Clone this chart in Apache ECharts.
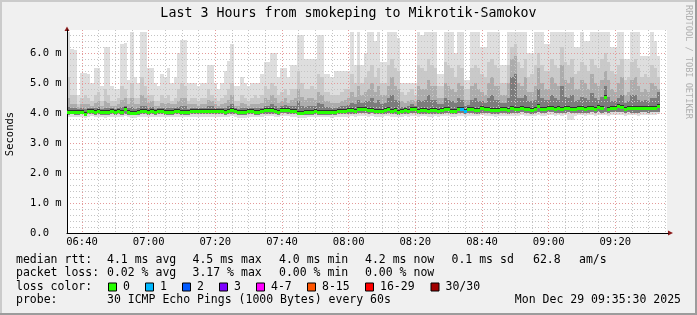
<!DOCTYPE html>
<html><head><meta charset="utf-8">
<script src="https://cdn.jsdelivr.net/npm/echarts@6/dist/echarts.min.js"></script>
<style>html,body{margin:0;padding:0;background:#f0f0f0}#c{width:697px;height:315px}</style>
</head><body><div id="c"></div>
<script>
// ---------------- data ----------------
const chartTitle = 'Last 3 Hours from smokeping to Mikrotik-Samokov';
const yAxisName = 'Seconds';
const startMinute = 395.5;          // 06:35:30, first column start (minutes of day)
const xTickLabels = ['06:40','07:00','07:20','07:40','08:00','08:20','08:40','09:00','09:20'];
const yTickLabels = ['0.0','1.0 m','2.0 m','3.0 m','4.0 m','5.0 m','6.0 m'];

// median rtt per 1-minute step (ms)
const median = [
4.05,4.05,4.04,4.05,4.05,3.98,4.06,4.07,4.05,4.07,
4.04,4.03,4.04,4.06,4.05,4.06,4.05,4.12,4.05,4.00,
4.00,4.04,4.07,4.07,4.05,4.06,4.03,4.06,4.06,4.05,
4.04,4.05,4.06,4.06,4.05,4.05,4.04,4.06,4.07,4.07,
4.07,4.07,4.07,4.08,4.08,4.07,4.06,4.05,4.07,4.10,
4.06,4.03,4.03,4.03,4.06,4.07,4.05,4.04,4.06,4.10,
4.10,4.10,4.06,4.05,4.11,4.11,4.10,4.06,4.06,4.00,
3.99,4.02,4.04,4.05,4.06,4.05,4.04,4.05,4.04,4.03,
4.05,4.06,4.08,4.06,4.09,4.10,4.08,4.12,4.13,4.12,
4.10,4.11,4.07,4.06,4.08,4.10,4.12,4.08,4.09,4.05,
4.06,4.10,4.08,4.12,4.12,4.08,4.10,4.10,4.06,4.09,
4.10,4.08,4.11,4.13,4.12,4.08,4.06,4.12,4.13,4.08,
4.12,4.14,4.10,4.10,4.16,4.12,4.14,4.11,4.09,4.11,
4.13,4.12,4.10,4.15,4.13,4.14,4.17,4.12,4.14,4.10,
4.12,4.22,4.14,4.13,4.17,4.18,4.13,4.16,4.12,4.16,
4.17,4.14,4.12,4.16,4.16,4.13,4.16,4.18,4.13,4.19,
4.16,4.55,4.12,4.17,4.18,4.22,4.19,4.14,4.17,4.15,
4.16,4.15,4.17,4.18,4.16,4.18,4.17,4.22];

// lost pings per step (of 30)
const lossCount = [
0,0,0,0,0,0,0,0,0,0, 0,0,0,0,0,0,0,0,0,0, 0,0,0,0,0,0,0,0,0,0,
0,0,0,0,0,0,0,0,0,0, 0,0,0,0,0,0,0,0,0,0, 0,0,0,0,0,0,0,0,0,0,
0,0,0,0,0,0,0,0,0,0, 0,0,0,0,0,0,0,0,0,0, 0,0,0,0,0,0,0,0,0,0,
0,0,0,0,0,0,0,0,0,0, 0,0,0,0,0,0,0,0,0,0, 0,0,0,0,0,0,0,0,1,1,
0,0,0,0,0,0,0,0,0,0, 0,0,0,0,0,0,0,0,0,0, 0,0,0,0,0,0,0,0,0,0,
0,0,0,0,0,0,0,0,0,0, 0,0,0,0,0,0,0,0,0,0, 0,0,0,0,0,0,0,0];

// smoke: slowest ping per step
const pingMax = [
6.7,6.15,6.1,4.6,5.35,5.35,5.3,5.0,5.5,5.5,
4.9,6.2,6.2,4.9,4.8,4.8,6.3,6.35,5.1,6.7,
5.2,5.0,6.7,6.7,5.5,5.5,5.0,4.9,5.3,5.2,
5.5,5.0,5.2,6.0,6.45,6.45,5.0,5.0,5.0,4.9,
5.0,5.0,5.6,5.6,5.0,4.8,5.0,5.4,5.75,6.3,
4.9,4.9,5.2,5.0,4.9,5.0,5.0,5.0,5.3,5.7,
5.7,6.0,6.0,5.2,5.5,5.5,5.2,5.6,5.6,6.6,
6.6,5.8,5.8,5.8,5.8,6.6,6.6,5.3,5.3,5.2,
5.4,5.4,5.4,5.4,5.4,6.7,5.6,6.7,5.6,6.0,
6.7,6.7,6.4,6.7,5.7,5.7,6.7,6.7,6.7,6.5,
5.0,5.0,5.0,5.0,5.0,6.7,6.6,6.7,6.7,6.7,
6.7,5.3,5.3,6.7,6.7,6.7,6.0,6.7,6.7,5.1,
5.1,6.7,6.7,6.7,6.2,6.2,6.7,6.7,6.7,6.7,
5.6,5.6,6.7,6.7,6.7,6.7,6.7,6.7,6.0,6.0,
6.7,6.7,6.7,6.3,6.3,6.7,6.7,6.7,6.7,6.7,
6.7,6.7,6.2,6.2,6.7,6.4,6.4,6.7,6.7,6.7,
6.7,6.7,6.7,6.2,6.2,6.7,6.7,5.8,5.8,6.7,
6.7,6.7,5.9,5.9,5.9,6.7,6.4,5.9];

// smoke: upper outer band
const pingHi2 = [
5.2,4.6,4.6,4.3,4.5,4.6,4.5,4.4,4.6,4.7,
4.4,4.8,4.6,4.4,4.4,4.5,4.9,4.8,4.5,5.0,
4.5,4.5,5.2,4.9,4.6,4.6,4.4,4.4,4.6,4.5,
4.6,4.4,4.5,4.8,5.0,4.9,4.4,4.5,4.5,4.4,
4.5,4.5,4.8,4.6,4.5,4.4,4.5,4.6,4.8,5.0,
4.4,4.4,4.6,4.5,4.4,4.5,4.6,4.5,4.6,4.9,
4.8,5.0,4.9,4.6,4.7,4.8,4.6,4.8,4.8,5.4,
5.0,4.8,4.8,4.9,4.8,5.3,5.2,4.7,4.7,4.6,
4.6,4.6,4.7,4.8,4.8,5.3,5.0,5.6,5.0,5.2,
5.4,5.6,5.2,5.5,5.0,5.0,5.6,5.8,5.5,5.4,
4.7,4.6,4.7,4.8,4.6,5.6,5.5,5.4,5.8,5.6,
5.5,4.9,4.9,5.7,5.6,5.5,5.2,5.6,5.5,4.8,
4.8,5.5,5.6,5.5,5.3,5.2,5.7,5.8,5.6,5.5,
5.0,5.0,5.6,6.2,6.3,5.7,5.5,5.8,5.2,5.3,
5.6,6.0,5.6,5.4,5.4,5.8,5.6,5.5,6.2,5.7,
5.6,5.8,5.3,5.4,5.7,5.6,5.4,5.8,5.6,5.5,
5.8,6.0,5.7,5.4,5.3,5.6,5.8,5.1,5.2,5.7,
5.8,5.5,5.2,5.3,5.2,5.6,5.5,5.2];

// smoke: upper middle band
const pingHi3 = [
4.5,4.3,4.3,4.2,4.3,4.3,4.3,4.25,4.35,4.4,
4.25,4.4,4.35,4.25,4.25,4.3,4.45,4.5,4.3,4.5,
4.3,4.3,4.6,4.5,4.35,4.4,4.25,4.25,4.35,4.3,
4.35,4.3,4.3,4.4,4.5,4.5,4.3,4.3,4.3,4.25,
4.3,4.3,4.45,4.4,4.3,4.25,4.3,4.35,4.45,4.6,
4.25,4.25,4.35,4.3,4.25,4.3,4.3,4.3,4.35,4.5,
4.45,4.6,4.5,4.35,4.4,4.5,4.35,4.45,4.5,4.8,
4.55,4.45,4.5,4.5,4.45,4.7,4.6,4.4,4.4,4.35,
4.35,4.35,4.4,4.45,4.5,4.7,4.55,4.9,4.6,4.7,
4.8,5.0,4.7,4.9,4.6,4.6,4.9,5.2,4.9,4.8,
4.4,4.35,4.4,4.45,4.4,4.9,4.8,4.8,5.1,4.9,
4.9,4.5,4.5,5.0,4.9,4.8,4.7,5.0,4.9,4.45,
4.45,4.9,5.0,4.8,4.7,4.6,5.0,5.2,4.9,4.9,
4.6,4.6,5.0,5.8,5.9,5.0,4.9,5.2,4.7,4.7,
4.9,5.5,5.0,4.8,4.8,5.2,5.0,4.9,5.6,5.1,
5.0,5.2,4.8,4.8,5.1,5.0,4.8,5.3,5.0,4.9,
5.1,5.4,5.1,4.8,4.7,5.0,5.2,4.6,4.7,5.1,
5.2,4.9,4.7,4.8,4.7,5.0,4.9,4.8];

// smoke: inner band above median
const pingHi4 = [
4.2,4.15,4.15,4.12,4.15,4.12,4.18,4.15,4.18,4.2,
4.14,4.18,4.15,4.15,4.14,4.16,4.2,4.25,4.16,4.2,
4.14,4.15,4.25,4.22,4.16,4.2,4.12,4.15,4.18,4.15,
4.16,4.15,4.16,4.2,4.25,4.22,4.14,4.16,4.18,4.16,
4.18,4.18,4.22,4.22,4.18,4.16,4.16,4.18,4.22,4.3,
4.15,4.14,4.18,4.15,4.16,4.16,4.16,4.15,4.18,4.25,
4.22,4.3,4.25,4.18,4.25,4.28,4.22,4.22,4.25,4.4,
4.25,4.2,4.25,4.25,4.22,4.35,4.3,4.2,4.2,4.18,
4.18,4.2,4.22,4.25,4.28,4.35,4.3,4.45,4.35,4.4,
4.4,4.5,4.35,4.45,4.3,4.35,4.5,4.6,4.45,4.4,
4.2,4.2,4.25,4.3,4.25,4.45,4.4,4.45,4.6,4.45,
4.45,4.3,4.3,4.5,4.45,4.4,4.35,4.5,4.45,4.25,
4.28,4.45,4.5,4.4,4.4,4.35,4.5,4.6,4.45,4.45,
4.35,4.35,4.5,5.2,5.3,4.5,4.5,4.6,4.4,4.4,
4.45,4.8,4.5,4.45,4.45,4.6,4.5,4.45,4.9,4.55,
4.5,4.6,4.4,4.45,4.55,4.5,4.45,4.65,4.5,4.45,
4.55,4.9,4.55,4.4,4.4,4.5,4.6,4.35,4.4,4.6,
4.6,4.45,4.4,4.45,4.4,4.5,4.5,4.7];

// smoke: lower inner bound
const pingLo = [
3.95,3.96,3.95,3.95,3.96,3.92,3.96,3.97,3.95,3.96,
3.95,3.94,3.95,3.96,3.95,3.96,3.95,3.98,3.95,3.93,
3.93,3.95,3.96,3.96,3.95,3.96,3.94,3.96,3.96,3.95,
3.95,3.95,3.96,3.96,3.95,3.95,3.95,3.96,3.97,3.96,
3.96,3.97,3.96,3.97,3.97,3.96,3.96,3.95,3.97,3.98,
3.96,3.94,3.94,3.94,3.96,3.97,3.95,3.95,3.96,3.98,
3.98,3.98,3.96,3.95,3.99,3.99,3.98,3.96,3.96,3.93,
3.92,3.94,3.95,3.95,3.96,3.95,3.95,3.95,3.95,3.94,
3.95,3.96,3.97,3.96,3.98,3.98,3.97,3.99,4.00,3.99,
3.98,3.99,3.96,3.96,3.97,3.98,3.99,3.97,3.97,3.95,
3.96,3.98,3.97,3.99,3.99,3.97,3.98,3.98,3.96,3.97,
3.98,3.97,3.98,4.00,3.99,3.97,3.96,3.99,4.00,3.97,
3.99,4.00,3.98,3.98,4.01,3.99,4.00,3.98,3.97,3.98,
3.99,3.99,3.98,4.00,3.99,4.00,4.02,3.99,4.00,3.98,
3.99,4.04,4.00,3.99,4.02,4.02,3.99,4.01,3.99,4.01,
4.02,4.00,3.99,4.01,4.01,3.99,4.01,4.02,3.99,4.03,
4.01,4.02,3.99,4.02,4.02,4.04,4.03,4.00,4.02,4.01,
4.01,4.00,4.02,4.02,4.01,4.02,4.02,4.05];

// smoke: fastest ping per step
const pingMin = [
3.86,3.88,3.87,3.87,3.88,3.82,3.88,3.89,3.87,3.88,
3.86,3.85,3.87,3.88,3.87,3.88,3.87,3.90,3.86,3.84,
3.84,3.87,3.88,3.88,3.87,3.88,3.86,3.87,3.88,3.87,
3.86,3.87,3.88,3.88,3.86,3.87,3.86,3.88,3.88,3.87,
3.87,3.88,3.87,3.88,3.88,3.87,3.87,3.86,3.88,3.89,
3.87,3.85,3.85,3.85,3.87,3.88,3.86,3.86,3.87,3.89,
3.89,3.89,3.87,3.86,3.90,3.90,3.89,3.87,3.87,3.83,
3.82,3.85,3.86,3.86,3.87,3.86,3.86,3.86,3.86,3.85,
3.86,3.87,3.88,3.87,3.88,3.89,3.88,3.90,3.90,3.90,
3.88,3.89,3.87,3.87,3.88,3.89,3.90,3.88,3.88,3.86,
3.87,3.89,3.88,3.90,3.90,3.88,3.89,3.89,3.86,3.88,
3.89,3.88,3.89,3.91,3.90,3.88,3.87,3.90,3.91,3.88,
3.90,3.91,3.89,3.89,3.92,3.90,3.91,3.89,3.88,3.89,
3.90,3.90,3.89,3.91,3.90,3.91,3.93,3.90,3.91,3.89,
3.90,3.95,3.91,3.90,3.93,3.93,3.90,3.92,3.90,3.92,
3.78,3.76,3.90,3.92,3.92,3.90,3.92,3.93,3.90,3.94,
3.92,3.93,3.90,3.93,3.93,3.95,3.94,3.91,3.93,3.92,
3.92,3.91,3.93,3.93,3.92,3.93,3.93,3.96];

const lossLabels = ['0','1','2','3','4-7','8-15','16-29','30/30'];
const lossColors = ['#26ff00','#00b8ff','#0059ff','#7e00ff','#ff00ff','#ff5500','#ff0000','#a10000'];
const statRtt = ['median rtt:','4.1 ms avg','4.5 ms max','4.0 ms min','4.2 ms now','0.1 ms sd','62.8','am/s'];
const statLoss = ['packet loss:','0.02 % avg','3.17 % max','0.00 % min','0.00 % now'];
const probeText = ['probe:','30 ICMP Echo Pings (1000 Bytes) every 60s'];
const dateText = 'Mon Dec 29 09:35:30 2025';
const sideText = 'RRDTOOL / TOBI OETIKER';

// ---------------- chart ----------------
const FONT = '"DejaVu Sans Mono", monospace';
const pad = n => (n < 10 ? '0' : '') + n;
const cats = [];
for (let k = 0; k <= 360; k++) {
  const m = startMinute + k * 0.5;
  const hh = Math.floor(m / 60), mm = Math.floor(m % 60);
  cats.push(pad(hh) + ':' + pad(mm) + ((m % 1) ? ':30' : ''));
}
const yMax = 203 / 30;

const smokeData = median.map((v, i) => [2 * i, pingMin[i], pingLo[i], pingHi4[i], pingHi3[i], pingHi2[i], pingMax[i]]);
const medData = median.map((v, i) => [2 * i, v, lossCount[i]]);
const lossColorOf = n => n === 0 ? lossColors[0] : n === 1 ? lossColors[1] : n === 2 ? lossColors[2] : n === 3 ? lossColors[3] : n <= 7 ? lossColors[4] : n <= 15 ? lossColors[5] : n < 30 ? lossColors[6] : lossColors[7];

const smokeBands = [[1, 6, '#dedede'], [2, 5, '#c9c9c9'], [2, 4, '#acacac'], [2, 3, '#7c7c7c']];

const RED = '#e49a9a', GREY = '#c4c4c4';

const graphics = [];
graphics.push({type:'rect', shape:{x:0,y:0,width:697,height:2}, style:{fill:'#cbcbcb'}, silent:true});
graphics.push({type:'rect', shape:{x:0,y:0,width:2,height:315}, style:{fill:'#cbcbcb'}, silent:true});
graphics.push({type:'rect', shape:{x:0,y:313,width:697,height:2}, style:{fill:'#9c9c9c'}, silent:true});
graphics.push({type:'rect', shape:{x:695,y:0,width:2,height:315}, style:{fill:'#9c9c9c'}, silent:true});
graphics.push({type:'text', x:348.5, y:13.5, style:{text:chartTitle, fontFamily:FONT, fontSize:13.3, fill:'#000', align:'center', verticalAlign:'middle', textAlign:'center', textVerticalAlign:'middle'}, silent:true});
graphics.push({type:'text', x:10, y:134, rotation:Math.PI/2, style:{text:yAxisName, fontFamily:FONT, fontSize:10.5, fill:'#000', align:'center', verticalAlign:'middle', textAlign:'center', textVerticalAlign:'middle'}, silent:true});
graphics.push({type:'text', x:688, y:62, rotation:-Math.PI/2, style:{text:sideText, fontFamily:FONT, fontSize:8.6, fill:'#b0b0b0', align:'center', verticalAlign:'middle', textAlign:'center', textVerticalAlign:'middle'}, silent:true});
graphics.push({type:'polygon', shape:{points:[[64.5,31],[67,26.5],[69.5,31]]}, style:{fill:'#8b1a1a'}, silent:true});
graphics.push({type:'polygon', shape:{points:[[668,230.5],[673,233],[668,235.5]]}, style:{fill:'#8b1a1a'}, silent:true});
graphics.push({type:'line', shape:{x1:667,y1:233.5,x2:668.5,y2:233.5}, style:{stroke:'#000',lineWidth:1}, silent:true});

const LFS = 11.5;
const txt = (s, x, y, extra) => graphics.push(Object.assign({type:'text', x:x, y:y, style:Object.assign({text:s, fontFamily:FONT, fontSize:LFS, fill:'#000', align:'left', verticalAlign:'middle', textAlign:'left', textVerticalAlign:'middle'}, extra || {}), silent:true}));
const rttX = [16,107,192.5,279,365,451.5,533,579];
statRtt.forEach((s, i) => txt(s, rttX[i], 260));
statLoss.forEach((s, i) => txt(s, rttX[i], 273.5));
txt('loss color:', 16, 287);
const boxX = [108.5,145.5,182.5,219.5,256.5,307.5,365.5,431];
lossLabels.forEach((s, i) => {
  graphics.push({type:'rect', shape:{x:boxX[i], y:283, width:8, height:8}, style:{fill:lossColors[i], stroke:'#000', lineWidth:1}, silent:true});
  txt(s, boxX[i] + 14.5, 287);
});
txt(probeText[0], 16, 300.5);
txt(probeText[1], 107, 300.5);
txt(dateText, 681, 300.5, {align:'right', textAlign:'right'});

const chart = echarts.init(document.getElementById('c'), null, {renderer:'canvas'});
chart.setOption({
  animation: false,
  backgroundColor: '#f0f0f0',
  grid: {left:67, top:30, width:600, height:203, show:true, backgroundColor:'#ffffff', borderWidth:0},
  xAxis: {
    type:'category', data:cats, boundaryGap:false, zlevel:1, z:3,
    axisLine:{show:true, lineStyle:{color:'#000', width:1}},
    axisTick:{show:false},
    axisLabel:{interval:(i, v) => xTickLabels.indexOf(v) >= 0, fontFamily:FONT, fontSize:10.5, color:'#000', margin:4},
    splitLine:{show:true, interval:(i, v) => v.length === 5 && (+v.slice(3)) % 5 === 0,
      lineStyle:{color:[RED, GREY, GREY, GREY], width:1, type:[1,2]}}
  },
  yAxis: {
    type:'value', min:0, max:yMax, interval:0.2, zlevel:1, z:3,
    axisLine:{show:true, lineStyle:{color:'#000', width:1}},
    axisTick:{show:false},
    axisLabel:{formatter: v => { const r = Math.round(v); return Math.abs(v - r) < 1e-6 && r < yTickLabels.length ? yTickLabels[r] : ''; },
      showMaxLabel:false, align:'left', margin:37, fontFamily:FONT, fontSize:10.5, color:'#000'},
    splitLine:{show:true, showMaxLine:false, showMinLine:true, lineStyle:{color:[RED, GREY, GREY, GREY, GREY], width:1, type:[1,2]}}
  },
  series: [
    {
      type:'custom', name:'smoke', zlevel:0, z:1, silent:true,
      data: smokeData, encode:{x:0, y:6},
      renderItem: function (params, api) {
        const i0 = api.value(0);
        const xa = Math.round(api.coord([i0, 0])[0]);
        const xb = Math.round(api.coord([i0 + 2, 0])[0]);
        const cs = params.coordSys;
        const Y = v => Math.max(cs.y, Math.round(api.coord([i0, v])[1]));
        const children = smokeBands.map(b => {
          const yt = Y(api.value(b[1])), yb = Y(api.value(b[0]));
          return {type:'rect', shape:{x:xa, y:yt, width:xb - xa, height:yb - yt}, style:{fill:b[2]}};
        });
        return {type:'group', children:children};
      }
    },
    {
      type:'custom', name:'median', zlevel:2, z:5, silent:true,
      data: medData, encode:{x:0, y:1},
      renderItem: function (params, api) {
        const i0 = api.value(0);
        const xa = Math.round(api.coord([i0, 0])[0]);
        const xb = Math.round(api.coord([i0 + 2, 0])[0]);
        const y = Math.round(api.coord([i0, api.value(1)])[1]);
        const col = lossColorOf(api.value(2));
        return {type:'group', children:[
          {type:'rect', shape:{x:xa, y:y - 2, width:xb - xa, height:1}, style:{fill:'#303030'}},
          {type:'rect', shape:{x:xa, y:y - 1, width:xb - xa, height:3}, style:{fill:col}}
        ]};
      }
    }
  ],
  graphic: graphics
});
</script>
</body></html>
